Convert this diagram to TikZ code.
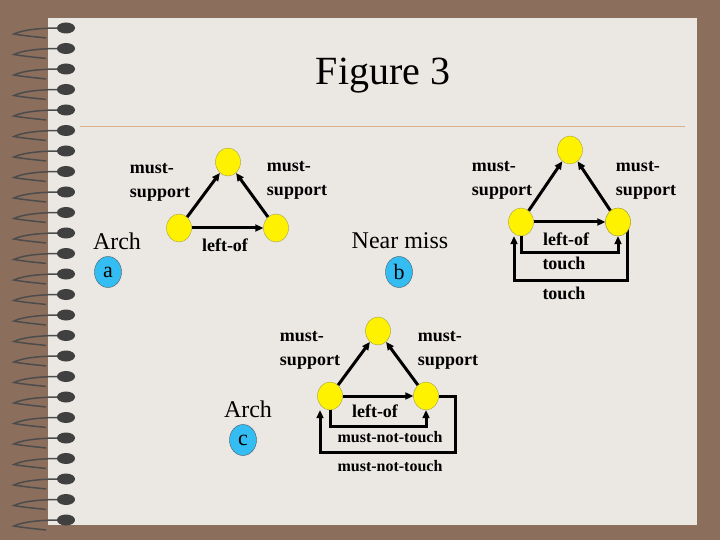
\documentclass[tikz,border=0pt]{standalone}
\usepackage{fontspec}
\setmainfont{Liberation Serif}
\usetikzlibrary{arrows.meta,shapes.geometric}
\begin{document}
\begin{tikzpicture}[x=1pt,y=-1pt,
  vert/.style={ellipse,fill=yellow,draw=yellow!60!black,minimum width=25pt,minimum height=28pt,inner sep=0pt},
  tag/.style={ellipse,fill=cyan!80!white,draw=cyan!30!black,minimum width=27pt,minimum height=31pt,inner sep=0pt,font=\fontsize{22}{22}\selectfont},
  lbl/.style={font=\bfseries\fontsize{18}{24}\selectfont,align=left,inner sep=0pt},
  big/.style={font=\fontsize{24}{24}\selectfont,inner sep=0pt},
  arr/.style={line width=3pt,-{Triangle[length=8pt,width=7pt]}},
  small/.style={lbl,font=\bfseries\fontsize{16}{18}\selectfont}]
\useasboundingbox (0,0) rectangle (720,540);
\fill[fill={rgb,255:red,140;green,110;blue,92}] (0,0) rectangle (720,540);
\fill[fill={rgb,255:red,235;green,231;blue,226}] (48,18) rectangle (697,525);
\foreach \yy in {28,48.5,...,520}{
  \draw[line width=1.5pt,black!70] (60,\yy) .. controls (30,\yy) and (18,\yy+4) .. (14,\yy+6) .. controls (25,\yy+8) and (38,\yy+9) .. (46,\yy+10);
  \fill[black!75] (66,\yy) ellipse (9 and 5.5);
}
\draw[line width=0.6pt,brown!60] (80,126) -- (685,126);
\node[font=\fontsize{40}{40}\selectfont] (title) at (383,76) {Figure 3};
% Arch a
\node[vert] (at) at (228,162) {};
\node[vert] (al) at (179,228) {};
\node[vert] (ar) at (276,228) {};
\draw[arr] (al) -- (at);
\draw[arr] (ar) -- (at);
\draw[arr] (al) -- (ar);
\node[lbl] (a1) at (160,182) {must-\\support};
\node[lbl] (a2) at (297,180) {must-\\support};
\node[lbl] (a3) at (225,245) {left-of};
\node[big] (a4) at (117,241) {Arch};
\node[tag] (a5) at (108,272) {a};
% Near miss
\node[vert] (bt) at (570,150) {};
\node[vert] (bl) at (521,222) {};
\node[vert] (br) at (618,222) {};
\coordinate (bs) at (618,224);
\draw[arr] (bl) -- (bt);
\draw[arr] (br) -- (bt);
\draw[arr] (bl) -- (br);
\draw[arr] (bl.south) -- (521,252) -| (br.south);
\draw[arr] (bs) -- (627,224) -- (627,280) -- (514,280) -- (514,222|-bl.south);
\node[vert] at (br) {};
\node[lbl] (b1) at (502,180) {must-\\support};
\node[lbl] (b2) at (646,180) {must-\\support};
\node[lbl] (b3) at (566,239) {left-of};
\node[lbl] (b4) at (564,263) {touch};
\node[lbl] (b5) at (564,293) {touch};
\node[big] (b6) at (400,241) {Near miss};
\node[tag] (b7) at (399,272) {b};
% Arch c
\node[vert] (ct) at (378,331) {};
\node[vert] (cl) at (330,396) {};
\node[vert] (cr) at (426,396) {};
\draw[arr] (cl) -- (ct);
\draw[arr] (cr) -- (ct);
\draw[arr] (cl) -- (cr);
\draw[arr] (cl.south) -- (330,426) -| (cr.south);
\draw[arr] (cr.east) -- (455,396) |- (320,452) -- (320,396|-cl.south);
\node[lbl] (c1) at (310,350) {must-\\support};
\node[lbl] (c2) at (448,350) {must-\\support};
\node[lbl] (c3) at (375,411) {left-of};
\node[small] (c4) at (390,437) {must-not-touch};
\node[small] (c5) at (390,466) {must-not-touch};
\node[big] (c6) at (248,409) {Arch};
\node[tag] (c7) at (243,440) {c};
\end{tikzpicture}
\end{document}
